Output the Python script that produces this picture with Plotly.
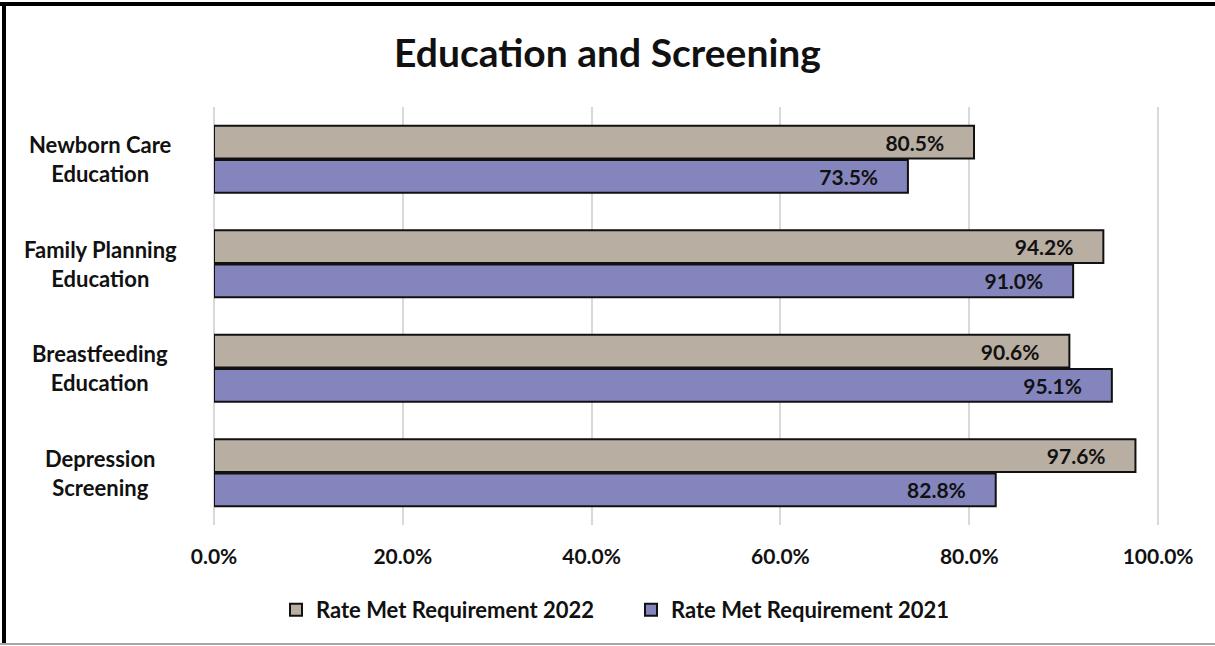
import plotly.graph_objects as go

# data
categories = [
    "Depression<br>Screening",
    "Breastfeeding<br>Education",
    "Family Planning<br>Education",
    "Newborn Care<br>Education",
]
rate_2022 = [97.6, 90.6, 94.2, 80.5]
rate_2021 = [82.8, 95.1, 91.0, 73.5]
tick_vals = [0, 20, 40, 60, 80, 100]
tick_text = ["0.0%", "20.0%", "40.0%", "60.0%", "80.0%", "100.0%"]

FONT = "Lato, 'Open Sans', sans-serif"
INK = "#111111"

W, H = 1215, 646
L, R, T, B = 214, 55, 107, 121
plot_w = W - L - R
plot_h = H - T - B

# value labels sit a little in from the bar end, like the original
label_tpl = "<b>%{x:.1f}%</b>" + "&nbsp;" * 5

fig = go.Figure()

# 2021 first so it sits below 2022 within each group
fig.add_trace(
    go.Bar(
        y=categories,
        x=rate_2021,
        orientation="h",
        name="<b>Rate Met Requirement 2021</b>",
        marker=dict(color="#8585BD", line=dict(color=INK, width=2)),
        texttemplate=label_tpl,
        textposition="inside",
        insidetextanchor="end",
        textfont=dict(family=FONT, size=21, color=INK),
        cliponaxis=False,
    )
)
fig.add_trace(
    go.Bar(
        y=categories,
        x=rate_2022,
        orientation="h",
        name="<b>Rate Met Requirement 2022</b>",
        marker=dict(color="#B9AEA2", line=dict(color=INK, width=2)),
        texttemplate=label_tpl,
        textposition="inside",
        insidetextanchor="end",
        textfont=dict(family=FONT, size=21, color=INK),
        cliponaxis=False,
    )
)

# category labels, centred like the original
for cat in categories:
    fig.add_annotation(
        x=-0.12, xref="paper", y=cat, yref="y",
        text="<b>" + cat + "</b>", showarrow=False,
        xanchor="center", align="center",
        font=dict(family=FONT, size=22, color=INK),
    )

# frame: thick top + left, thin grey bottom
fig.add_shape(type="line", xref="paper", yref="paper",
              x0=-L / plot_w, x1=(W - L) / plot_w,
              y0=(plot_h + T - 4) / plot_h, y1=(plot_h + T - 4) / plot_h,
              line=dict(color="black", width=4))
fig.add_shape(type="line", xref="paper", yref="paper",
              x0=(4 - L) / plot_w, x1=(4 - L) / plot_w,
              y0=-(B - 2) / plot_h, y1=(plot_h + T - 2) / plot_h,
              line=dict(color="black", width=4))
fig.add_shape(type="line", xref="paper", yref="paper",
              x0=-L / plot_w, x1=(W - L) / plot_w,
              y0=-(B - 2) / plot_h, y1=-(B - 2) / plot_h,
              line=dict(color="#a6a6a6", width=2))

fig.update_layout(
    width=W,
    height=H,
    margin=dict(l=L, r=R, t=T, b=B),
    paper_bgcolor="white",
    plot_bgcolor="white",
    barmode="group",
    bargap=0.34,
    bargroupgap=0.05,
    title=dict(
        text="<b>Education and Screening</b>",
        x=0.5, xref="container", xanchor="center",
        y=1 - 53 / H, yref="container", yanchor="middle",
        font=dict(family=FONT, size=39, color=INK),
    ),
    showlegend=True,
    legend=dict(
        orientation="h",
        traceorder="reversed",
        x=276 / W, xref="container", xanchor="left",
        y=1 - 610 / H, yref="container", yanchor="middle",
        font=dict(family=FONT, size=22, color=INK),
        itemwidth=30,
        entrywidth=310,
    ),
    font=dict(family=FONT, color=INK),
)

fig.update_xaxes(
    range=[0, 100.2],
    tickvals=tick_vals,
    ticktext=["<b>" + t + "</b>" for t in tick_text],
    tickfont=dict(family=FONT, size=21, color=INK),
    showgrid=True,
    gridcolor="#d9d9d9",
    gridwidth=2,
    zeroline=True,
    zerolinecolor="#d9d9d9",
    zerolinewidth=2,
    showline=False,
    ticks="",
    ticklabelstandoff=17,
)
fig.update_yaxes(
    showticklabels=False,
    showgrid=False,
    zeroline=False,
    showline=False,
    categoryorder="array",
    categoryarray=categories,
)

# drop the default 8px body margin so the figure fills the window exactly
fig.write_html(
    "out.html",
    config={"displayModeBar": False},
    post_script="document.body.style.margin='0';",
)
